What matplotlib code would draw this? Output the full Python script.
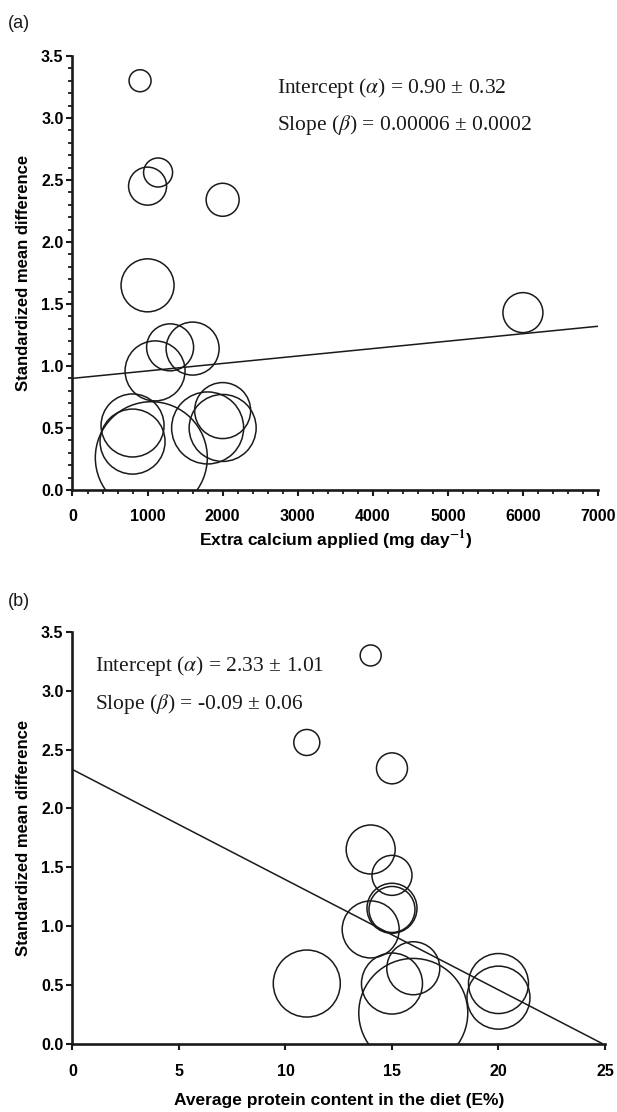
import matplotlib
matplotlib.use('Agg')
import matplotlib.pyplot as plt
from matplotlib.ticker import MultipleLocator, FormatStrFormatter

# panel (a): extra calcium vs standardized mean difference
calcium = [900, 1140, 1000, 2000, 1000, 6000, 1300, 1600, 1100, 800, 800, 1050, 1800, 2000, 2000]
smd_a = [3.30, 2.56, 2.45, 2.34, 1.65, 1.43, 1.15, 1.14, 0.96, 0.52, 0.39, 0.26, 0.50, 0.64, 0.50]
weight_a = [22, 29, 38, 33, 53, 40, 47, 53, 60, 63, 65, 112, 72, 56, 67]
alpha_a, beta_a = 0.90, 0.00006

# panel (b): protein content vs standardized mean difference
protein = [14, 11, 15, 14, 15, 15, 15, 14, 16, 15, 16, 11, 20, 20]
smd_b = [3.30, 2.56, 2.34, 1.65, 1.43, 1.15, 1.14, 0.97, 0.64, 0.51, 0.26, 0.51, 0.51, 0.39]
weight_b = [21, 26, 31, 49, 40, 50, 46, 57, 53, 61, 109, 67, 60, 63]
alpha_b, beta_b = 2.33, -0.0937

ink = '#1a1a1a'
plt.rcParams['font.family'] = ['Liberation Sans', 'DejaVu Sans']
plt.rcParams['mathtext.fontset'] = 'stix'


def sizes(w):
    # bubble diameter (px at 100 dpi) -> marker area in pt^2
    return [(v * 72 / 100) ** 2 for v in w]


def style_axis(ax, xpad):
    for s in ['top', 'right']:
        ax.spines[s].set_visible(False)
    for s in ['left', 'bottom']:
        ax.spines[s].set_linewidth(1.9)
        ax.spines[s].set_color(ink)
    ax.tick_params(which='major', length=4.5, width=1.5, color=ink, labelsize=11.5)
    ax.tick_params(axis='y', which='major', pad=2)
    ax.tick_params(axis='x', which='major', pad=xpad)
    ax.tick_params(which='minor', length=3, width=1.3, color=ink)
    for lab in ax.get_xticklabels() + ax.get_yticklabels():
        lab.set_fontweight('bold')
    ax.set_ylabel('Standardized mean difference', fontsize=12, fontweight='bold', labelpad=7)


fig = plt.figure(figsize=(6.17, 11.12), dpi=100)

ax1 = fig.add_axes([0.1175, 0.5594, 0.8517, 0.3903])
ax1.scatter(calcium, smd_a, s=sizes(weight_a), marker='o', facecolors='none',
            edgecolors=ink, linewidths=1.1, zorder=3)
ax1.plot([0, 7000], [alpha_a, alpha_a + beta_a * 7000], color=ink, lw=1.1)
ax1.set_xlim(0, 7000)
ax1.set_ylim(0, 3.5)
ax1.xaxis.set_major_locator(MultipleLocator(1000))
ax1.xaxis.set_minor_locator(MultipleLocator(200))
ax1.yaxis.set_major_locator(MultipleLocator(0.5))
ax1.yaxis.set_minor_locator(MultipleLocator(0.1))
ax1.yaxis.set_major_formatter(FormatStrFormatter('%.1f'))
style_axis(ax1, 9)
ax1.set_xlabel('Extra calcium applied (mg day$^{\\mathbf{-1}}$)', fontsize=12.5,
               fontweight='bold', labelpad=3)
ax1.text(0.39, 0.915, 'Intercept ($\\alpha$) = 0.90 ± 0.32', transform=ax1.transAxes,
         family='Liberation Serif', fontsize=15.5, color=ink)
ax1.text(0.39, 0.829, 'Slope ($\\beta$) = 0.00006 ± 0.0002', transform=ax1.transAxes,
         family='Liberation Serif', fontsize=15.5, color=ink)

ax2 = fig.add_axes([0.1175, 0.0616, 0.863, 0.3701])
ax2.scatter(protein, smd_b, s=sizes(weight_b), marker='o', facecolors='none',
            edgecolors=ink, linewidths=1.1, zorder=3)
x_end = -alpha_b / beta_b
ax2.plot([0, x_end], [alpha_b, 0], color=ink, lw=1.1)
ax2.set_xlim(0, 25)
ax2.set_ylim(0, 3.5)
ax2.xaxis.set_major_locator(MultipleLocator(5))
ax2.yaxis.set_major_locator(MultipleLocator(0.5))
ax2.yaxis.set_major_formatter(FormatStrFormatter('%.1f'))
style_axis(ax2, 10)
ax2.set_xlabel('Average protein content in the diet (E%)', fontsize=12.5,
               fontweight='bold', labelpad=10)
ax2.text(0.043, 0.904, 'Intercept ($\\alpha$) = 2.33 ± 1.01', transform=ax2.transAxes,
         family='Liberation Serif', fontsize=15.5, color=ink)
ax2.text(0.043, 0.812, 'Slope ($\\beta$) = -0.09 ± 0.06', transform=ax2.transAxes,
         family='Liberation Serif', fontsize=15.5, color=ink)

fig.text(0.013, 0.979, '(a)', fontsize=13, va='center', color=ink)
fig.text(0.013, 0.4595, '(b)', fontsize=13, va='center', color=ink)

fig.savefig('out.png', dpi=100)
